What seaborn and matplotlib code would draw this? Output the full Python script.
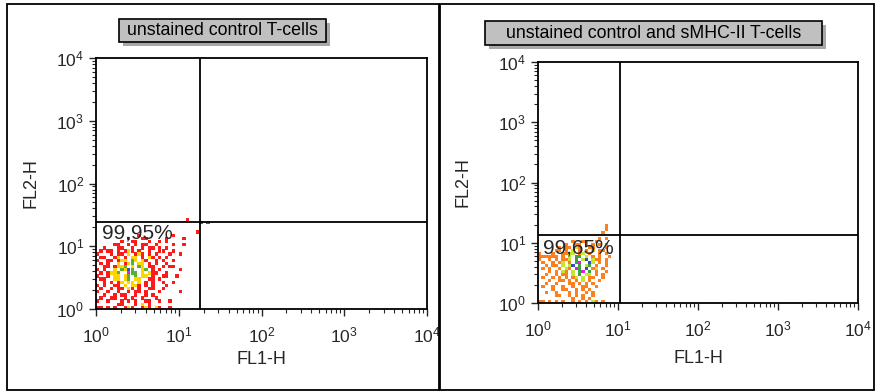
import matplotlib
matplotlib.use("Agg")
import matplotlib.pyplot as plt
import matplotlib.patches as mpatches
from matplotlib.ticker import LogLocator, NullFormatter, FixedLocator
import pandas as pd
import seaborn as sns

# ---- data: event density maps of the lower-left region ----
# one character per channel bin (x: 1/24 decade, y: 1/20 decade), top row = highest FL2-H bin
# '.' no events, letters = density level of the bin
left_map = [
    "..........................r......",   # 28
    "..............................r.r",
    ".................................",
    ".................................",
    ".............................r...",
    "............r.........r..........",
    ".........r...rr.....r....r.......",
    ".......r..rr...r..r.r............",
    ".....rr..r.r.rr..r....r..r.......",
    "..r...rr..r..r.rr.r.r............",
    ".r.rr.r.ryr.r..r..rr..r..........",
    "r...r.rr.y.ryr.r.r...r..r........",
    ".rr..ry.r.yy.r.yr.r.r............",
    "r..rr.ryy.gy.yr..r.r..r..........",
    ".r.r..y.ryg.yy.r.r..r............",
    "..rr.ryyg.y.gy.rr..r.rr..........",
    "r.r..y.gybg..yg.r.r.....r........",
    ".r.ryyg..mgg.y.yrr..r............",
    "r..r.yy.yg.g.yy.r..rr..r.........",
    ".rr..yy.yg.yy..rr.r..............",
    "..r.r.ry.yy.y.r.r..r..r..........",
    "r.r..rr.y.yyr.r.r...r............",
    ".r..r.rr.yr.r..rr..r.............",
    "r..r..r..r.rr.r...r.....r........",
    "..r..r.rr..r..r.r................",
    ".r..rr..r.r..r...r...............",
    "r..r...r.r.r..rr..r..r...........",
    "......rr...r.y.r.................",
    "rr.r.r..ryr..ryr.yr..r...........",   # 0
]
right_map = [
    "....................o...",   # 25
    "....................o...",
    "...................o....",
    "........................",
    "..................o.o...",
    "..........o..oo..o......",
    "........o..oo.o.o.o.o...",
    "......o.oo.lo..oo...o...",
    ".....oo.o.l.o.o.l.oo....",
    "o...o..ooll.ol.o..o.o...",
    "oooooo.o.l.gg.l.o.o..o..",
    "o..o.o.ool.g.lb.loo.o...",
    ".o..o.ol.o.gm..bl.o.o...",
    "..o.oo.l.lb.g.lg.o..o...",
    ".o.o..o.lo.mg.b.ol.o....",
    "...o.o.lo.l.gm.g.o..o...",
    "..o..o.oo.l.g.ll.o.o....",
    ".o..o.o.o.ol.l.oo..o....",
    "...o..oo.o.o.l.o..o.....",
    "..o..o...oo.o.o.o.......",
    ".o..o..o..o..oo..o......",
    "....o..oo..o.o.o........",
    "..o..o...o.o..o.o.......",
    ".....oo..o.o.o..o.......",
    "..........o..o.o........",
    "oo.o.o.o..o.o.o.lo.o....",   # 0
]
bins_per_decade_x = 24
bins_per_decade_y = 20

titles = ["unstained control T-cells", "unstained control and sMHC-II T-cells"]
quadrant_pct = ["99,95%", "99,65%"]
pct_pos_x = [1.18, 1.15]
pct_pos_y = [16.3, 8.2]
gate_x = [18.0, 10.6]
gate_y = [24.3, 13.5]
decades = [1, 10, 100, 1000, 10000]

left_pal = {"r": "#ff1a1a", "y": "#ffd400", "g": "#5cb030", "b": "#3050d0", "m": "#e020e0"}
right_pal = {"o": "#ff7f1e", "l": "#c4e632", "g": "#40a040", "b": "#3050d0", "m": "#e020e0"}


def map_to_df(rows):
    recs = []
    n = len(rows)
    for k, row in enumerate(rows):
        ybin = n - 1 - k
        for xbin, ch in enumerate(row):
            if ch != ".":
                recs.append({"FL1-H": 10 ** ((xbin + 0.5) / bins_per_decade_x),
                             "FL2-H": 10 ** ((ybin + 0.5) / bins_per_decade_y),
                             "level": ch})
    return pd.DataFrame(recs)


sns.set_style("white")
plt.rcParams["font.family"] = ["Liberation Sans", "DejaVu Sans"]
plt.rcParams["mathtext.default"] = "regular"

fig = plt.figure(figsize=(8.8, 3.92), dpi=100)

# panel frames (pixel coords -> figure fraction)
W, H = 880.0, 392.0
for x0, x1 in [(7, 439), (440, 874)]:
    fig.patches.append(mpatches.Rectangle((x0 / W, (H - 390) / H), (x1 - x0) / W, 386 / H,
                                          transform=fig.transFigure, fill=False,
                                          edgecolor="black", linewidth=1.3))

# title boxes with shadow
for (x0, x1, y0, y1), text in zip([(119, 326, 19, 42), (485, 822, 21, 45)], titles):
    fig.patches.append(mpatches.Rectangle(((x0 + 4) / W, (H - y1 - 4) / H), (x1 - x0) / W, (y1 - y0) / H,
                                          transform=fig.transFigure, facecolor="#a8a8a8",
                                          edgecolor="none"))
    fig.patches.append(mpatches.Rectangle((x0 / W, (H - y1) / H), (x1 - x0) / W, (y1 - y0) / H,
                                          transform=fig.transFigure, facecolor="#c0c0c0",
                                          edgecolor="black", linewidth=1.2))
    fig.text((x0 + x1) / 2 / W, (H - (y0 + y1) / 2) / H, text, ha="center", va="center",
             fontsize=12.8, color="black")

axes_px = [(96, 427, 58, 309), (538, 858, 62, 303)]
dfs = [map_to_df(left_map), map_to_df(right_map)]
pals = [left_pal, right_pal]
label_pos = [(-0.17, -0.168), (-0.209, -0.196)]

for i, ((x0, x1, y0, y1), df, pal) in enumerate(zip(axes_px, dfs, pals)):
    ax = fig.add_axes([x0 / W, (H - y1) / H, (x1 - x0) / W, (y1 - y0) / H])
    ax.set_xscale("log")
    ax.set_yscale("log")
    sns.scatterplot(data=df, x="FL1-H", y="FL2-H", hue="level", palette=pal, marker="s",
                    s=6, linewidth=0, legend=False, ax=ax, zorder=2)
    ax.set_xlim(1, 1e4)
    ax.set_ylim(1, 1e4)
    ax.axvline(gate_x[i], color="black", linewidth=1.3, zorder=3)
    ax.axhline(gate_y[i], color="black", linewidth=1.3, zorder=3)
    ax.text(pct_pos_x[i], pct_pos_y[i], quadrant_pct[i],
            ha="left", va="center", fontsize=15, zorder=4)
    ax.xaxis.set_major_locator(FixedLocator(decades))
    ax.yaxis.set_major_locator(FixedLocator(decades))
    ax.xaxis.set_minor_locator(LogLocator(base=10, subs=range(2, 10), numticks=20))
    ax.yaxis.set_minor_locator(LogLocator(base=10, subs=range(2, 10), numticks=20))
    ax.xaxis.set_minor_formatter(NullFormatter())
    ax.yaxis.set_minor_formatter(NullFormatter())
    ax.set_xticklabels(["$10^{%d}$" % k for k in range(5)])
    ax.set_yticklabels(["$10^{%d}$" % k for k in range(5)])
    ax.tick_params(axis="x", which="major", pad=7)
    ax.tick_params(axis="both", which="major", direction="out", length=5, width=1.0,
                   labelsize=12.5, bottom=True, left=True)
    ax.tick_params(axis="both", which="minor", direction="out", length=3, width=0.8,
                   bottom=True, left=True)
    for sp in ax.spines.values():
        sp.set_linewidth(1.3)
        sp.set_color("black")
    ax.set_xlabel("FL1-H", fontsize=13)
    ax.set_ylabel("FL2-H", fontsize=13)
    ax.xaxis.set_label_coords(0.5, label_pos[i][1])
    ax.yaxis.set_label_coords(label_pos[i][0], 0.5)

fig.savefig("out.png", dpi=100)
